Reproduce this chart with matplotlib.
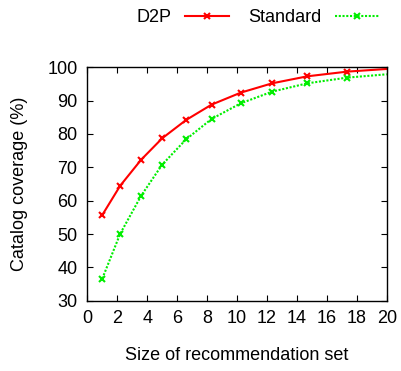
import matplotlib
matplotlib.use("Agg")
import matplotlib.pyplot as plt

plt.rcParams['font.family'] = ['Liberation Sans', 'DejaVu Sans']

# (markers, plus the line end at 20)
x_d2p = [1.0, 2.2, 3.6, 5.0, 6.6, 8.3, 10.25, 12.35, 14.7, 17.35, 20]
d2p = [55.7, 64.5, 72.3, 78.7, 84.2, 88.8, 92.4, 95.2, 97.3, 98.7, 99.5]

x_std = [1.0, 2.2, 3.6, 5.0, 6.6, 8.3, 10.25, 12.35, 14.7, 17.35, 20]
standard = [36.6, 50.1, 61.5, 70.8, 78.4, 84.5, 89.2, 92.7, 95.2, 96.9, 97.9]

xticks = list(range(0, 21, 2))
yticks = list(range(30, 101, 10))

fig = plt.figure(figsize=(4.01, 3.71), dpi=100)
ax = fig.add_axes([87.3 / 401, 1 - 300.7 / 371, 299.4 / 401, 233.4 / 371])

ax.plot(x_d2p, d2p, color='#ff0000', lw=1.5, ls='-', marker='x', ms=4,
        mew=1.5, markevery=slice(0, 10), label='D2P')
ax.plot(x_std, standard, color='#00ee00', lw=1.5, ls=(0, (1.0, 0.8)), marker='x',
        ms=4, mew=1.5, markevery=slice(0, 10), label='Standard')

ax.set_xlim(0, 20)
ax.set_ylim(30, 100)
ax.set_xticks(xticks)
ax.set_yticks(yticks)
ax.tick_params(direction='in', top=True, right=True, length=4, width=0.8,
               labelsize=13, pad=7)
for s in ax.spines.values():
    s.set_linewidth(1.0)

ax.set_xlabel('Size of recommendation set', fontsize=13, labelpad=14)
ax.set_ylabel('Catalog coverage (%)', fontsize=13, labelpad=14)

fig.legend(loc='upper left', bbox_to_anchor=(127 / 401, 1.0), ncol=2,
           frameon=False, markerfirst=False, fontsize=13, handlelength=2.4,
           columnspacing=1.05, handletextpad=0.8, borderaxespad=0.1)

fig.savefig('out.png', dpi=100)
